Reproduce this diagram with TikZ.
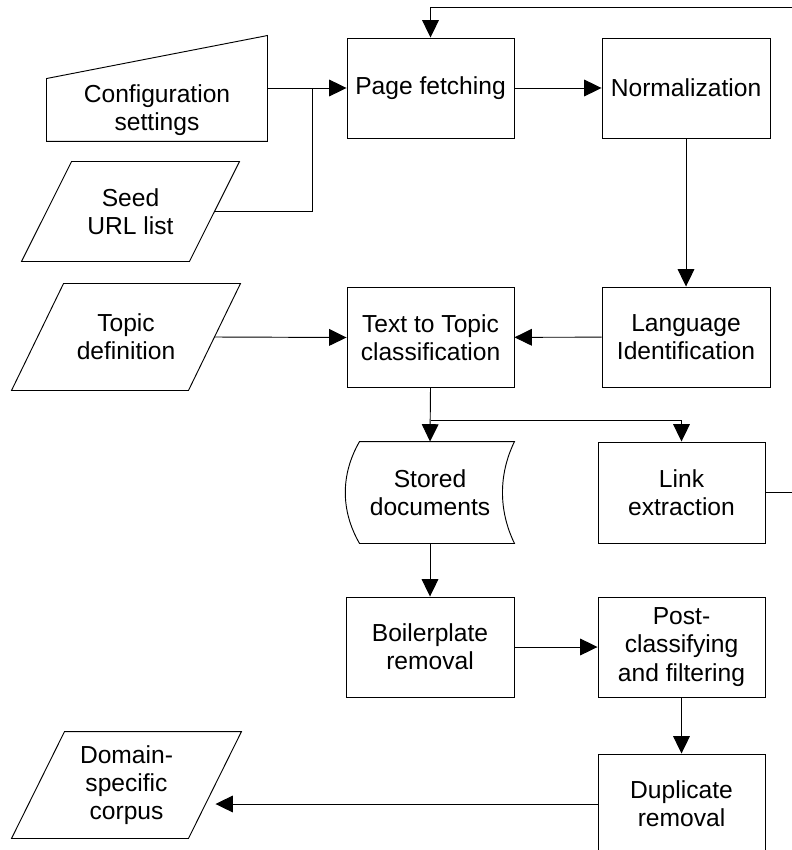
\documentclass[tikz,border=0pt]{standalone}
\usepackage{fontspec}
\setmainfont{Liberation Sans}
\usetikzlibrary{arrows.meta,calc}

\begin{document}
\begin{tikzpicture}[x=0.03cm,y=-0.03cm]
	\useasboundingbox (0,0) rectangle (791,850);
	\begin{scope}[every node/.style={draw,rectangle,align=center,line width=0.8pt,
			minimum width=5.01cm,minimum height=3cm,inner sep=2pt,
			font=\fontsize{21}{24}\selectfont},
		iobox/.style={draw=none,minimum height=3.18cm}]
		\node (fetch) at (430.5,88) {Page fetching};
		\node (norm) at (686,88) [minimum width=5.04cm] {Normalization};
		\node (langid) at (686,337) [minimum width=5.04cm] {Language\\Identification};
		\node (classify) at (430.5,337.5) {Text to Topic\\classification};
		\node (linkex) at (681.5,492.5) [minimum height=3.03cm] {Link\\extraction};
		\node (boiler) at (430,647) [minimum width=5.04cm] {Boilerplate\\removal};
		\node (postcls) at (681.5,647) {Post-\\classifying\\and filtering};
		\node (dedup) at (681.5,804) {Duplicate\\removal};
		\node (config) at (157,110) [draw=none,minimum width=6.6cm,minimum height=1.86cm] {Configuration\\settings};
		\node (stored) at (430,492.5) [draw=none,minimum width=5.04cm,minimum height=3.03cm] {Stored\\documents};
		\node (seed) at (130.5,211.5) [iobox,minimum width=6.51cm,minimum height=2.97cm] {Seed\\URL list};
		\node (topic) at (126,337) [iobox,minimum width=6.84cm] {Topic\\definition};
		\node (corpus) at (126.5,785) [iobox,minimum width=6.87cm] {Domain-\\specific\\corpus};
	\end{scope}
	% outlines of the special shapes
	\begin{scope}[line width=0.8pt]
		\draw (config.south west) -- (config.south east) -- ($(config.north east)+(0,-43)$) -- (config.north west) -- cycle;
		\draw ($(stored.north west)+(14,0)$) -- (stored.north east)
			.. controls ($(stored.north east)+(-16,33)$) and ($(stored.south east)+(-16,-33)$) .. (stored.south east)
			-- ($(stored.south west)+(14,0)$)
			.. controls ($(stored.south west)+(-5,-33)$) and ($(stored.north west)+(-5,33)$) .. ($(stored.north west)+(14,0)$) -- cycle;
		\foreach \n/\s in {seed/50,topic/52,corpus/53}
			\draw ($(\n.north west)+(\s,0)$) -- (\n.north east) -- ($(\n.south east)+(-\s,0)$) -- (\n.south west) -- cycle;
	\end{scope}
	\begin{scope}[>={Triangle[length=5.2mm,width=5mm]},line width=0.8pt]
		\draw[->] (config.east |- fetch.west) -- (fetch.west);
		\draw ($(seed.east)+(-25,0)$) -| ($(fetch.west)+(-34,0)$);
		\draw[->] (fetch) -- (norm);
		\draw[->] (norm) -- (langid);
		\draw[->] (langid) -- (classify);
		\draw[->] ($(topic.east)+(-26,0)$) -- (classify.west);
		\draw[->] (classify.south) -- (stored.north);
		\draw[->] ($(classify.south)+(0,32)$) -| (linkex.north);
		\draw[->] (linkex.east) -- ++(31,0) |- ($(fetch.north)+(0,-30)$) -- (fetch.north);
		\draw[->] (stored) -- (boiler);
		\draw[->] (boiler) -- (postcls);
		\draw[->] (postcls) -- (dedup);
		\draw[->] (dedup.west) -- ($(dedup.west -| corpus.east)+(-26,0)$);
	\end{scope}
\end{tikzpicture}
\end{document}
